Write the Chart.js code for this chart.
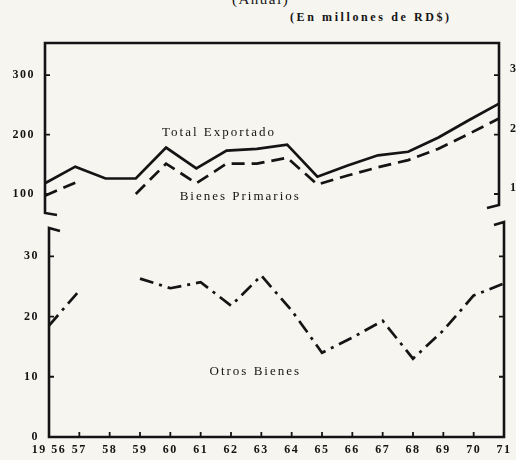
<!DOCTYPE html>
<html>
<head>
<meta charset="utf-8">
<script src="https://cdn.jsdelivr.net/npm/chart.js@4"></script>
<style>
html, body { margin: 0; padding: 0; background: #f6f5ef; overflow: hidden; }
#wrap { position: relative; width: 516px; height: 460px; }
canvas { position: absolute; left: 0; top: 0; }
.t { position: absolute; font-family: "Liberation Serif", serif; color: #141414; white-space: nowrap; }
</style>
</head>
<body>
<div id="wrap">
  <div class="t" style="left:232px;top:-9px;font-size:15px;letter-spacing:1.5px">(Anual)</div>
  <div class="t" style="left:290px;top:10px;font-size:12px;font-weight:bold;letter-spacing:2.6px">(En millones de RD$)</div>
  <canvas id="topChart" width="516" height="460"></canvas>
  <canvas id="bottomChart" width="516" height="460"></canvas>
</div>
<script>
// data (millones de RD$)
const years = ['1956','1957','1958','1959','1960','1961','1962','1963','1964','1965','1966','1967','1968','1969','1970','1971'];
const xTickLabels = ['19 56','57','58','59','60','61','62','63','64','65','66','67','68','69','70','71'];
const totalExportado = [118, 146, 126, 126, 178, 143, 173, 176, 183, 129, 148, 165, 171, 195, 224, 252];
const bienesPrimarios = [97, 119, null, 100, 151, 118, 151, 151, 161, 116, 131, 145, 157, 176, 201, 227];
const otrosBienes = [18.5, 24.3, null, 26.3, 24.7, 25.7, 21.8, 26.8, 21, 14, 16.5, 19.3, 13, 17.7, 23.5, 25.5];
const topTicks = [100, 200, 300];
const bottomTicks = [0, 10, 20, 30];

const ink = '#141414';
const tickFont = { family: '"Liberation Serif", serif', size: 12, weight: 'bold' };

// wider typewriter-like spacing for the axis numbers
const spacing = {
  id: 'spacing',
  beforeDraw(chart) { chart.ctx.letterSpacing = '1.5px'; }
};

// draws the panel frame, broken-axis hooks, inner ticks and series names
const frame = {
  id: 'frame',
  afterDraw(chart, args, o) {
    const ctx = chart.ctx, a = chart.chartArea;
    const y = chart.scales.y, x = chart.scales.x;
    ctx.save();
    ctx.strokeStyle = ink;
    ctx.lineWidth = 2.6;
    ctx.lineJoin = 'miter';
    ctx.beginPath();
    if (o.panel === 'top') {
      ctx.moveTo(a.left + 12, a.bottom + 2);
      ctx.lineTo(a.left, a.bottom);
      ctx.lineTo(a.left, a.top);
      ctx.lineTo(a.right, a.top);
      ctx.lineTo(a.right, a.bottom - 8);
      ctx.lineTo(a.right - 12, a.bottom - 5);
    } else {
      ctx.moveTo(a.left + 11, a.top + 3);
      ctx.lineTo(a.left, a.top);
      ctx.lineTo(a.left, a.bottom);
      ctx.lineTo(a.right, a.bottom);
      ctx.lineTo(a.right, a.top - 6);
      ctx.lineTo(a.right - 10, a.top - 3);
    }
    ctx.stroke();

    ctx.lineWidth = 1.8;
    ctx.beginPath();
    y.ticks.forEach(t => {
      const py = y.getPixelForValue(t.value);
      ctx.moveTo(a.left, py); ctx.lineTo(a.left + 5, py);
      ctx.moveTo(a.right, py); ctx.lineTo(a.right - 5, py);
    });
    if (o.panel === 'bottom') {
      years.forEach((yr, i) => {
        const px = x.getPixelForValue(i);
        ctx.moveTo(px, a.bottom); ctx.lineTo(px, a.bottom - 5);
      });
    }
    ctx.stroke();

    ctx.fillStyle = ink;
    if (o.panel === 'top') {
      // right-hand scale, cut off by the page edge
      ctx.font = 'bold 12px "Liberation Serif", serif';
      ctx.textAlign = 'left';
      ctx.textBaseline = 'middle';
      y.ticks.forEach(t => ctx.fillText(String(t.value), a.right + 11, y.getPixelForValue(t.value) - 6));
    }
    ctx.font = '13px "Liberation Serif", serif';
    ctx.letterSpacing = '2px';
    ctx.textAlign = 'center';
    ctx.textBaseline = 'middle';
    (o.labels || []).forEach(l => {
      ctx.fillText(l.text, x.getPixelForValue(l.x), y.getPixelForValue(l.y));
    });
    ctx.restore();
  }
};

function yScale(min, max, ticks, width) {
  return {
    min: min, max: max,
    afterBuildTicks: s => { s.ticks = ticks.map(v => ({ value: v })); },
    afterFit: s => { s.width = width; },
    grid: { display: false, drawTicks: false },
    border: { display: false },
    ticks: { color: ink, font: tickFont, padding: 10 }
  };
}

new Chart(document.getElementById('topChart'), {
  type: 'line',
  data: {
    labels: years,
    datasets: [
      { label: 'Total Exportado', data: totalExportado, borderColor: ink, borderWidth: 2.7, pointRadius: 0, tension: 0 },
      { label: 'Bienes Primarios', data: bienesPrimarios, borderColor: ink, borderWidth: 2.7, borderDash: [13, 7], pointRadius: 0, tension: 0, spanGaps: false }
    ]
  },
  options: {
    responsive: false,
    animation: false,
    events: [],
    layout: { padding: { top: 43, bottom: 247, left: 0, right: 17 } },
    scales: {
      x: { display: false },
      y: yScale(68, 354, topTicks, 45)
    },
    plugins: {
      legend: { display: false },
      tooltip: { enabled: false },
      frame: {
        panel: 'top',
        labels: [
          { text: 'Total Exportado', x: 5.75, y: 203 },
          { text: 'Bienes Primarios', x: 6.45, y: 96 }
        ]
      }
    }
  },
  plugins: [spacing, frame]
});

new Chart(document.getElementById('bottomChart'), {
  type: 'line',
  data: {
    labels: years,
    datasets: [
      { label: 'Otros Bienes', data: otrosBienes, borderColor: ink, borderWidth: 2.7, borderDash: [14, 6, 3, 6], pointRadius: 0, tension: 0, spanGaps: false }
    ]
  },
  options: {
    responsive: false,
    animation: false,
    events: [],
    layout: { padding: { top: 228, bottom: 0, left: 0, right: 10 } },
    scales: {
      x: {
        afterFit: s => { s.height = 23; },
        grid: { display: false, drawTicks: false },
        border: { display: false },
        ticks: {
          color: ink, font: tickFont, padding: 6,
          autoSkip: false, maxRotation: 0,
          callback: (v, i) => xTickLabels[i]
        }
      },
      y: yScale(0, 34.7, bottomTicks, 49)
    },
    plugins: {
      legend: { display: false },
      tooltip: { enabled: false },
      frame: {
        panel: 'bottom',
        labels: [
          { text: 'Otros Bienes', x: 6.8, y: 10.8 }
        ]
      }
    }
  },
  plugins: [spacing, frame]
});
</script>
</body>
</html>
